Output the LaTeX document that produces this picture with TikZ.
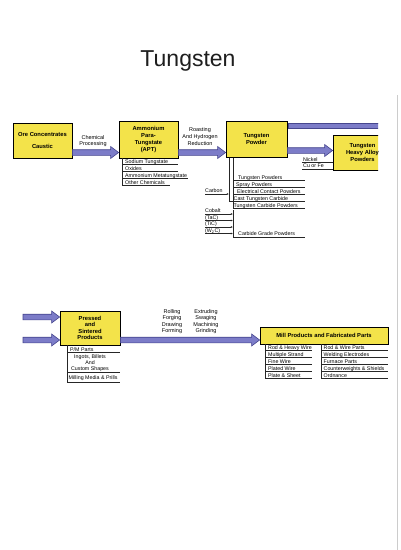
\documentclass[tikz,border=0pt]{standalone}
\usepackage{fontspec}
\setmainfont{Liberation Sans}
\usetikzlibrary{calc}
\definecolor{boxyellow}{HTML}{F3E34A}
\definecolor{arrowfill}{HTML}{7C7CC8}
\definecolor{arrowdark}{HTML}{46468E}
\definecolor{titlegray}{HTML}{1E1E1E}
\tikzset{
  ybox/.style={draw=black, line width=0.8pt, fill=boxyellow, align=center, inner sep=0pt,
    font=\fontsize{5.8}{6.7}\selectfont\bfseries},
  lbl/.style={font=\fontsize{5.5}{6.5}\selectfont, align=center, inner sep=0pt},
  item/.style={font=\fontsize{5.3}{6}\selectfont, anchor=base west, inner sep=0pt},
  rule/.style={line width=0.5pt, draw=black!85},
  smallarr/.style={line width=0.5pt, draw=black!85, -{Latex[length=2.2pt,width=2pt]}},
  fat/.style={fill=arrowfill, draw=arrowdark, line width=0.6pt, line join=miter,
    to path={let \p1=(\tikztostart), \p2=(\tikztotarget) in
      (\x1,\y1+2.8pt) -- (\x2-8pt,\y1+2.8pt) -- (\x2-8pt,\y1+6pt) -- (\x2,\y1)
      -- (\x2-8pt,\y1-6pt) -- (\x2-8pt,\y1-2.8pt) -- (\x1,\y1-2.8pt) -- cycle}},
  fatbar/.style={fill=arrowfill, draw=arrowdark, line width=0.6pt,
    to path={let \p1=(\tikztostart), \p2=(\tikztotarget) in
      (\x1,\y1+2.6pt) rectangle (\x2,\y1-2.6pt)}},
}
\usetikzlibrary{arrows.meta}
\begin{document}
\begin{tikzpicture}[x=1pt,y=-1pt]
\useasboundingbox (0,0) rectangle (400,550);
\fill[white] (0,0) rectangle (400,550);
\draw[black!20, line width=0.6pt] (397,95) -- (397,550);

% title
\node[anchor=base, inner sep=0pt, text=titlegray, font=\fontsize{23}{26}\selectfont] (title) at (188,66) {Tungsten};

% ---------- row 1 boxes ----------
\node[ybox, minimum width=59pt, minimum height=35pt] (ore) at (42.5,140.5) {Ore Concentrates\\[5.5pt]Caustic};
\node[ybox, minimum width=59pt, minimum height=37pt, font=\fontsize{5.8}{7}\selectfont\bfseries] (apt) at (148.5,139.5) {Ammonium\\Para-\\Tungstate\\(APT)};
\node[ybox, minimum width=61pt, minimum height=36pt] (tp) at (256.5,139) {Tungsten\\Powder};

\begin{scope}
\clip (0,0) rectangle (378,550);
\node[ybox, minimum width=59pt, minimum height=35pt] (hv) at (362.5,152.5) {Tungsten\\Heavy Alloy\\Powders};
\coordinate (y0) at (0,125.5);
\coordinate (edge) at (400,125.5);
\path[fatbar] ([xshift=0.5pt]tp.east |- y0) to (edge);
\end{scope}

% row 1 arrows and labels
\coordinate (y1) at (0,152.5);
\coordinate (y2) at (0,150.5);
\path[fat] (ore.east |- y1) to (apt.west |- y1);
\path[fat] (apt.east |- y1) to (tp.west |- y1);
\path[fat] (tp.east |- y2) to (hv.west |- y2);
\node[lbl, font=\fontsize{5.5}{6.2}\selectfont] (chem) at (93,141) {Chemical\\Processing};
\node[lbl, font=\fontsize{5.5}{6.6}\selectfont] (roast) at (200,136.5) {Roasting\\And Hydrogen\\Reduction};

% APT list
\draw[rule] (122,158) -- (122,186);
\node[item] (a1) at (125,163) {Sodium Tungstate};
\node[item] (a2) at (125,170) {Oxides};
\node[item] (a3) at (125,177) {Ammonium Metatungstate};
\node[item] (a4) at (125,184) {Other Chemicals};
\draw[rule] (122,164.5) -- (178,164.5);
\draw[rule] (122,171.5) -- (178,171.5);
\draw[rule] (122,178.5) -- (188,178.5);
\draw[rule] (122,185.5) -- (170,185.5);

% Tungsten powder list
\draw[rule] (229,157.5) -- (229,201.5);
\draw[rule] (233,157.5) -- (233,208.5);
\node[item] (t1) at (238,179) {Tungsten Powders};
\node[item] (t2) at (236,186) {Spray Powders};
\node[item] (t3) at (237,193) {Electrical Contact Powders};
\node[item] (t4) at (233.5,200) {Cast Tungsten Carbide};
\node[item] (t5) at (233.5,207) {Tungsten Carbide Powders};
\draw[rule] (233,180.5) -- (305,180.5);
\draw[rule] (233,187.5) -- (305,187.5);
\draw[rule] (233,194.5) -- (305,194.5);
\draw[rule] (229,201.5) -- (305,201.5);
\draw[rule] (233,208.5) -- (305,208.5);

\node[item] (carbon) at (205,192) {Carbon};
\coordinate (cend) at (229,194);
\draw[smallarr] (carbon.south west |- cend) -- (cend);

\draw[rule] (233,210) -- (233,238);
\node[item] (co) at (205,212.5) {Cobalt};
\node[item] (tac) at (205,219) {(TaC)};
\node[item] (tic) at (205,225.5) {(TiC)};
\node[item] (w2c) at (205,232) {(W\textsubscript{2}C)};
\coordinate (c1) at (233,214);
\coordinate (c2) at (233,220.5);
\coordinate (c3) at (233,227);
\coordinate (c4) at (233,233.5);
\draw[smallarr] (co.west |- c1) -- (c1);
\draw[smallarr] (tac.west |- c2) -- (c2);
\draw[smallarr] (tic.west |- c3) -- (c3);
\draw[smallarr] (w2c.west |- c4) -- (c4);
\node[item] (cg) at (238,235) {Carbide Grade Powders};
\draw[rule] (233,237.5) -- (305,237.5);

% Nickel, Cu or Fe
\node[item] (ni) at (303,161) {Nickel};
\node[item] (cu) at (303,167.8) {Cu or Fe};
\coordinate (n1) at (0,162.7);
\coordinate (n2) at (0,169.5);
\draw[rule] (302,162.7) -- (hv.west |- n1);
\draw[rule] (302,169.5) -- (hv.west |- n2);

% ---------- row 2 ----------
\node[ybox, minimum width=60pt, minimum height=34pt, font=\fontsize{5.8}{6.5}\selectfont\bfseries] (ps) at (90,328) {Pressed\\and\\Sintered\\Products};
\node[ybox, minimum width=128pt, minimum height=17pt] (mill) at (324,335.5) {Mill Products and Fabricated Parts};

\coordinate (in1) at (23,317);
\coordinate (in2) at (23,340);
\path[fat] (in1) to (ps.west |- in1);
\path[fat] (in2) to (ps.west |- in2);
\path[fat] (ps.east |- in2) to (mill.west |- in2);

\node[lbl] (rf) at (172,321.5) {Rolling\\Forging\\Drawing\\Forming};
\node[lbl] (es) at (206,321.5) {Extruding\\Swaging\\Machining\\Grinding};

% pressed list
\draw[rule] (67,345) -- (67,382);
\node[item] (p1) at (70,351) {P/M Parts};
\draw[rule] (67,352.5) -- (120,352.5);
\node[lbl, font=\fontsize{5.3}{6.1}\selectfont] (p2) at (90,363) {Ingots, Billets\\And\\Custom Shapes};
\draw[rule] (67,372.5) -- (120,372.5);
\node[item] (p3) at (68.5,379.5) {Milling Media \& Prills};
\draw[rule] (67,382) -- (120,382);

% mill lists
\draw[rule] (265,344) -- (265,379);
\node[item] (m1) at (268,349) {Rod \& Heavy Wire};
\node[item] (m2) at (268,356) {Multiple Strand};
\node[item] (m3) at (268,363) {Fine Wire};
\node[item] (m4) at (268,370) {Plated Wire};
\node[item] (m5) at (268,377) {Plate \& Sheet};
\foreach \yy in {350.7,357.7,364.7,371.7,378.7}
  \draw[rule] (265,\yy) -- (312,\yy);

\draw[rule] (321,344) -- (321,379);
\node[item] (r1) at (323.5,349) {Rod \& Wire Parts};
\node[item] (r2) at (323.5,356) {Welding Electrodes};
\node[item] (r3) at (323.5,363) {Furnace Parts};
\node[item] (r4) at (323.5,370) {Counterweights \& Shields};
\node[item] (r5) at (323.5,377) {Ordnance};
\foreach \yy in {350.7,357.7,364.7,371.7,378.7}
  \draw[rule] (321,\yy) -- (388,\yy);
\end{tikzpicture}
\end{document}
